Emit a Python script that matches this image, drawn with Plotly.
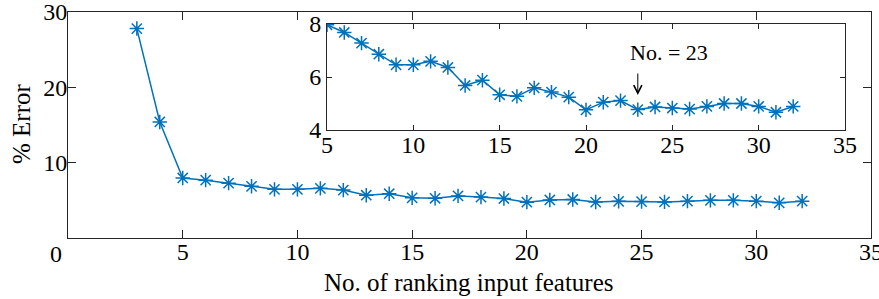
import plotly.graph_objects as go

# Main series
main_x = [3, 4, 5, 6, 7, 8, 9, 10, 11, 12, 13, 14, 15, 16, 17, 18, 19, 20,
          21, 22, 23, 24, 25, 26, 27, 28, 29, 30, 31, 32]
main_err = [27.8, 15.4, 7.97, 7.68, 7.28, 6.86, 6.46, 6.46, 6.59, 6.36, 5.68, 5.88,
            5.33, 5.27, 5.59, 5.43, 5.24, 4.76, 5.05, 5.11, 4.77, 4.87, 4.83, 4.79,
            4.89, 5.0, 5.0, 4.89, 4.67, 4.89]
# Inset (zoom from 5 features)
inset_x = main_x[2:]
inset_err = main_err[2:]

main_xticks = [0, 5, 10, 15, 20, 25, 30, 35]
main_yticks = [0, 10, 20, 30]
inset_xticks = [5, 10, 15, 20, 25, 30, 35]
inset_yticks = [4, 6, 8]

BLUE = "#0072BD"
AX = "#262626"
FONT = "Liberation Serif"

W, H = 879, 299
L, R, T, B = 68, 8, 12, 61
PW, PH = W - L - R, H - T - B


def px_x(px):
    return (px - L) / PW


def px_y(py):
    return (H - B - py) / PH


fig = go.Figure()
marker = dict(symbol="asterisk-open", size=12, color=BLUE, line=dict(color=BLUE, width=1.5))
fig.add_trace(go.Scatter(x=main_x, y=main_err, mode="lines+markers",
                         line=dict(color=BLUE, width=1.5), marker=marker,
                         xaxis="x", yaxis="y", showlegend=False))
fig.add_trace(go.Scatter(x=inset_x, y=inset_err, mode="lines+markers",
                         line=dict(color=BLUE, width=1.5), marker=marker,
                         xaxis="x2", yaxis="y2", showlegend=False))

axcommon = dict(showgrid=False, zeroline=False, showline=True, linecolor=AX, linewidth=1,
                mirror="ticks", ticks="inside", tickcolor=AX, tickwidth=1, automargin=False,
                ticklabeloverflow="allow",
                tickfont=dict(family=FONT, size=24, color="#000000"))

fig.update_layout(
    width=W, height=H,
    margin=dict(l=L, r=R, t=T, b=B, pad=0),
    paper_bgcolor="white", plot_bgcolor="white",
    font=dict(family=FONT, color="#000000"),
    xaxis=dict(range=[0, 35], tickvals=main_xticks,
               ticktext=["" if v == 0 else str(v) for v in main_xticks],
               ticklen=8, ticklabelstandoff=-8, domain=[0, 1], anchor="y", **axcommon),
    yaxis=dict(range=[0, 30], tickvals=main_yticks,
               ticktext=["" if v == 0 else str(v) for v in main_yticks],
               ticklen=8, ticklabelstandoff=-5, domain=[0, 1], anchor="x", **axcommon),
    xaxis2=dict(range=[5, 35], tickvals=inset_xticks, ticklen=5, ticklabelstandoff=-7,
                domain=[px_x(327), px_x(845)], anchor="y2", **axcommon),
    yaxis2=dict(range=[4, 8], tickvals=inset_yticks, ticklen=5, ticklabelstandoff=0,
                domain=[px_y(130), px_y(24)], anchor="x2", **axcommon),
    annotations=[
        dict(text="0", x=px_x(56), y=px_y(254), xref="paper", yref="paper", showarrow=False,
             font=dict(family=FONT, size=24), xanchor="center", yanchor="middle"),
        dict(text="No. of ranking input features", x=px_x(469), y=px_y(282),
             xref="paper", yref="paper", showarrow=False,
             font=dict(family=FONT, size=25), xanchor="center", yanchor="middle"),
        dict(text="% Error", x=px_x(21), y=px_y(124), textangle=-90,
             xref="paper", yref="paper", showarrow=False,
             font=dict(family=FONT, size=25), xanchor="center", yanchor="middle"),
        dict(text="No. = 23", x=px_x(628), y=px_y(53), xref="paper", yref="paper",
             showarrow=False, xanchor="left", yanchor="middle",
             font=dict(family=FONT, size=22)),
        dict(text="", x=23, y=px_y(95), xref="x2", yref="paper",
             showarrow=True, ax=0, ay=-23, arrowhead=5, arrowsize=1.6,
             arrowwidth=1, arrowcolor="#000000"),
    ],
)

fig.write_html("out.html", config={"displayModeBar": False},
               post_script="document.body.style.margin='0';document.body.style.overflow='hidden';")
